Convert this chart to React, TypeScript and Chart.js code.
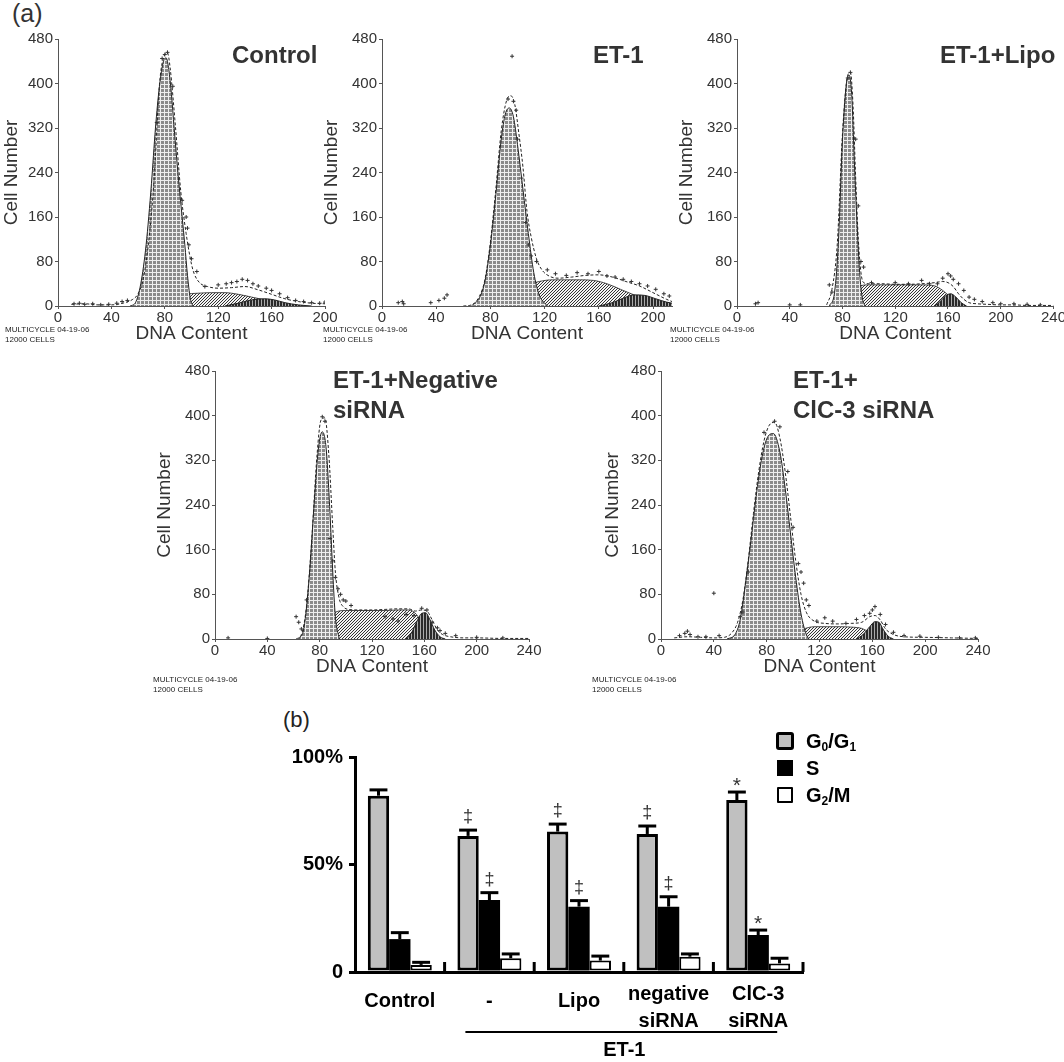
import React, { useEffect, useRef } from 'react';
import { Chart, registerables } from 'chart.js';

Chart.register(...registerables);

const FONT = '"Liberation Sans", Arial, Helvetica, sans-serif';
type Pt = [number, number];

// ================= (a) DNA histograms: [DNA content, cell number] =================
// Control
const ctlG1: Pt[] = [[54,0],[58,6],[62,40],[66,110],[70,220],[73,320],[76,395],[79,440],[81,446],[83,425],[85,380],[87,320],[90,235],[93,160],[95,110],[97,55],[99,15],[101,0]];
const ctlS: Pt[] = [[64,0],[75,5],[85,14],[95,21],[105,23],[115,24],[125,24],[135,21],[145,16],[155,11],[165,6],[175,2],[185,0]];
const ctlG2: Pt[] = [[125,0],[135,5],[145,11],[155,13],[162,11],[170,6],[180,2],[190,0]];
const ctlFit: Pt[] = [[10,3],[20,4],[30,2],[40,2],[50,6],[56,12],[60,22],[64,50],[68,118],[72,228],[76,398],[80,452],[82,455],[84,428],[88,322],[92,205],[96,130],[98,100],[100,75],[102,58],[106,42],[112,35],[120,32],[130,33],[140,35],[150,29],[160,21],[170,13],[180,8],[190,5],[200,4]];
const ctlDots: Pt[] = [[12,4],[16,5],[20,3],[26,4],[32,2],[38,3],[44,5],[48,8],[52,10],[78,445],[80,452],[82,456],[74,330],[86,395],[93,190],[96,160],[97,140],[98,110],[100,85],[104,62],[110,35],[120,38],[126,40],[130,42],[134,44],[138,48],[142,46],[146,40],[150,36],[156,32],[160,28],[166,22],[172,15],[178,10],[184,8],[190,6],[196,5],[200,7]];

// ET-1
const et1G1: Pt[] = [[66,0],[72,15],[76,45],[80,110],[84,200],[88,300],[91,345],[94,356],[97,340],[100,290],[104,210],[108,130],[112,60],[116,20],[122,0]];
const et1S: Pt[] = [[76,0],[86,8],[96,22],[106,36],[116,44],[126,47],[136,47],[146,47],[156,46],[166,40],[176,30],[186,20],[196,12],[206,6],[214,3]];
const et1G2: Pt[] = [[160,0],[170,6],[178,14],[186,20],[194,19],[202,13],[210,7],[214,5]];
const et1Fit: Pt[] = [[60,0],[66,2],[72,18],[76,48],[80,115],[84,210],[88,315],[92,370],[95,378],[98,362],[101,310],[104,250],[107,170],[110,125],[114,85],[118,65],[124,53],[130,50],[140,52],[150,55],[160,56],[170,52],[180,44],[190,36],[200,24],[210,12],[214,8]];
const et1Dots: Pt[] = [[12,6],[15,8],[16,4],[36,6],[42,10],[46,14],[48,20],[92,498],[96,449],[93,372],[97,368],[99,352],[100,300],[103,230],[106,150],[108,110],[110,90],[114,80],[122,65],[128,58],[136,55],[144,60],[152,58],[160,62],[166,54],[172,52],[178,48],[184,44],[190,40],[196,36],[202,30],[208,22],[212,18]];

// ET-1 + Lipo
const lipG1: Pt[] = [[70,0],[74,25],[77,120],[80,300],[83,400],[85,415],[87,380],[89,260],[91,150],[93,60],[95,15],[97,0]];
const lipS: Pt[] = [[74,0],[80,8],[86,25],[92,35],[100,38],[110,38],[120,38],[130,38],[140,38],[150,36],[156,28],[162,16],[168,6],[174,0]];
const lipG2: Pt[] = [[150,0],[154,8],[158,18],[162,22],[166,16],[170,6],[174,0]];
const lipFit: Pt[] = [[68,2],[72,30],[76,110],[80,310],[84,415],[86,420],[88,360],[90,230],[92,120],[94,60],[96,42],[100,40],[110,40],[120,39],[130,39],[140,40],[150,42],[156,44],[160,42],[164,35],[168,22],[172,12],[176,6],[182,4],[190,3],[200,2],[210,2],[220,1],[230,1],[240,1]];
const lipDots: Pt[] = [[14,4],[16,6],[40,2],[48,2],[70,38],[72,25],[86,420],[84,410],[90,300],[92,180],[94,80],[96,70],[102,42],[120,42],[130,40],[140,46],[146,40],[152,40],[156,50],[160,58],[162,54],[164,48],[168,40],[172,28],[176,16],[180,12],[186,8],[194,6],[200,4],[210,4],[220,3],[230,2]];

// ET-1 + Negative siRNA
const negG1: Pt[] = [[64,0],[68,20],[72,110],[76,250],[79,340],[82,371],[85,340],[88,220],[90,120],[92,40],[95,0]];
const negS: Pt[] = [[74,0],[80,10],[86,32],[92,48],[100,51],[110,51],[120,51],[130,51],[140,52],[148,52],[154,44],[158,28],[162,12],[166,2],[168,0]];
const negG2: Pt[] = [[146,0],[150,10],[154,30],[158,46],[161,47],[164,36],[168,16],[172,4],[176,0]];
const negFit: Pt[] = [[62,0],[66,8],[70,60],[74,180],[78,330],[81,392],[84,396],[87,330],[90,200],[92,120],[95,72],[98,58],[102,53],[110,52],[120,52],[130,53],[140,54],[148,54],[153,50],[158,52],[162,50],[166,34],[170,16],[174,8],[180,4],[190,2],[200,2],[220,1],[240,1]];
const negDots: Pt[] = [[10,2],[40,1],[62,40],[64,30],[66,18],[70,70],[82,398],[84,390],[88,180],[90,140],[92,110],[94,90],[96,80],[98,70],[100,68],[104,60],[130,40],[136,36],[140,32],[146,44],[152,42],[158,55],[162,52],[166,30],[170,20],[172,15],[176,10],[184,6],[200,3],[220,2]];

// ET-1 + ClC-3 siRNA
const clcG1: Pt[] = [[50,0],[56,8],[60,35],[64,100],[68,175],[72,255],[76,320],[80,358],[85,368],[90,335],[94,270],[98,190],[102,110],[106,45],[110,8],[112,0]];
const clcS: Pt[] = [[84,0],[92,4],[100,10],[108,18],[116,22],[126,22],[136,22],[146,21],[152,19],[158,12],[164,5],[170,0]];
const clcG2: Pt[] = [[148,0],[153,8],[158,22],[162,31],[165,30],[168,18],[172,5],[176,0]];
const clcFit: Pt[] = [[10,2],[20,4],[30,3],[40,2],[48,3],[54,12],[58,30],[62,70],[66,140],[70,225],[74,300],[78,355],[82,383],[86,388],[90,360],[94,300],[98,220],[102,140],[106,80],[110,48],[116,32],[124,28],[134,27],[144,28],[152,30],[158,40],[162,42],[166,34],[170,18],[176,8],[184,4],[200,3],[220,2],[240,1]];
const clcDots: Pt[] = [[14,6],[18,10],[20,14],[22,8],[28,4],[34,4],[40,82],[44,6],[60,40],[62,48],[66,120],[78,370],[86,390],[90,380],[96,300],[100,200],[104,135],[106,120],[108,100],[110,70],[112,60],[118,32],[124,38],[130,32],[140,28],[148,35],[154,42],[158,46],[160,52],[162,58],[166,44],[170,26],[176,12],[184,6],[196,5],[210,3],[226,2],[238,2]];

const histTitles = [['Control'], ['ET-1'], ['ET-1+Lipo'], ['ET-1+Negative', 'siRNA'], ['ET-1+', 'ClC-3 siRNA']];
const histXMax = [200, 214, 240, 240, 240];
const histYMax = 480;
const histStep = 80;
const histXStep = 40;
const xAxisTitle = 'DNA Content';
const yAxisTitle = 'Cell Number';
const footer = ['MULTICYCLE 04-19-06', '12000 CELLS'];

const panels = [
  { g1: ctlG1, s: ctlS, g2: ctlG2, fit: ctlFit, dots: ctlDots },
  { g1: et1G1, s: et1S, g2: et1G2, fit: et1Fit, dots: et1Dots },
  { g1: lipG1, s: lipS, g2: lipG2, fit: lipFit, dots: lipDots },
  { g1: negG1, s: negS, g2: negG2, fit: negFit, dots: negDots },
  { g1: clcG1, s: clcS, g2: clcG2, fit: clcFit, dots: clcDots },
];

// ================= (b) bar chart =================
const barCats: (string | string[])[] = ['Control', '-', 'Lipo', ['negative', 'siRNA'], ['ClC-3', 'siRNA']];
const g0Vals = [82.0, 63.3, 65.3, 64.2, 80.0];
const g0Err = [2.7, 2.7, 3.5, 3.7, 3.7];
const sVals = [15.3, 33.5, 30.4, 30.4, 17.2];
const sErr = [3.0, 3.4, 2.8, 4.6, 2.3];
const g2Vals = [3.3, 6.4, 5.3, 7.1, 4.0];
const g2Err = [1.2, 2.0, 2.1, 1.3, 2.4];
const g0Marks = ['', '‡', '‡', '‡', '*'];
const sMarks = ['', '‡', '‡', '‡', '*'];
const g2Marks = ['', '', '', '', ''];
const pctLabels: Record<number, string> = { 0: '0', 50: '50%', 100: '100%' };
const seriesNames = ['G_0/G_1', 'S', 'G_2/M'];
const groupLabel = 'ET-1';
const groupRange = [1, 4];

// ================= layout =================
const histLayout = [
  { left: 0, top: 28, width: 339, height: 317, yW: 58, padR: 14 },
  { left: 320, top: 28, width: 366, height: 317, yW: 62, padR: 14 },
  { left: 675, top: 28, width: 391, height: 317, yW: 62, padR: 12 },
  { left: 153, top: 360, width: 390, height: 318, yW: 62, padR: 14 },
  { left: 601, top: 360, width: 391, height: 318, yW: 60, padR: 14 },
];
const titlePos = [
  { left: 232, top: 40 },
  { left: 593, top: 40 },
  { left: 940, top: 40 },
  { left: 333, top: 365 },
  { left: 793, top: 365 },
];
const footerPos = [
  { left: 5, top: 325 },
  { left: 323, top: 325 },
  { left: 670, top: 325 },
  { left: 153, top: 675 },
  { left: 592, top: 675 },
];

function makePattern(kind: string) {
  const c = document.createElement('canvas');
  const ctx = c.getContext('2d')!;
  if (kind === 'g1') {
    c.width = 4; c.height = 4;
    ctx.fillStyle = '#8a8a8a'; ctx.fillRect(0, 0, 4, 4);
    ctx.fillStyle = '#eeeeee'; ctx.fillRect(0, 0, 4, 1); ctx.fillRect(0, 0, 1, 4);
  } else if (kind === 's') {
    c.width = 3; c.height = 3;
    ctx.fillStyle = '#f4f4f4'; ctx.fillRect(0, 0, 3, 3);
    ctx.fillStyle = '#333'; ctx.fillRect(0, 2, 1, 1); ctx.fillRect(1, 1, 1, 1); ctx.fillRect(2, 0, 1, 1);
  } else {
    c.width = 3; c.height = 3;
    ctx.fillStyle = '#2a2a2a'; ctx.fillRect(0, 0, 3, 3);
    ctx.fillStyle = '#aaa'; ctx.fillRect(0, 0, 1, 3);
  }
  return ctx.createPattern(c, 'repeat');
}

const toPts = (a: Pt[]) => a.map(([x, y]) => ({ x, y }));

function Histogram({ idx }: { idx: number }) {
  const ref = useRef<HTMLCanvasElement>(null);
  const L = histLayout[idx];
  useEffect(() => {
    const p = panels[idx];
    const txt = '#333';
    const tickFont = { family: FONT, size: 15 };
    const titleFont = { family: FONT, size: 19 };
    const area = (data: Pt[], pat: any, bw: number) => ({
      data: toPts(data), borderColor: '#222', borderWidth: bw, backgroundColor: pat,
      fill: 'origin', pointRadius: 0, cubicInterpolationMode: 'monotone',
    });
    const cfg: any = {
      type: 'line',
      data: {
        datasets: [
          { data: toPts(p.dots), showLine: false, pointStyle: 'cross', pointRadius: 2, borderColor: '#333', borderWidth: 1, backgroundColor: '#333' },
          { data: toPts(p.fit), borderColor: '#222', borderWidth: 1, borderDash: [3, 2], pointRadius: 0, fill: false, cubicInterpolationMode: 'monotone' },
          area(p.g1, makePattern('g1'), 1),
          area(p.g2, makePattern('g2'), 1),
          area(p.s, makePattern('s'), 0.8),
        ],
      },
      options: {
        animation: false, responsive: false, maintainAspectRatio: false,
        layout: { padding: { top: 10, right: L.padR, bottom: 0, left: 0 } },
        plugins: { legend: { display: false }, tooltip: { enabled: false } },
        scales: {
          x: {
            type: 'linear', min: 0, max: histXMax[idx],
            ticks: { stepSize: histXStep, includeBounds: false, font: tickFont, color: txt, padding: 0, maxRotation: 0, autoSkip: false },
            grid: { display: true, drawOnChartArea: false, drawTicks: true, tickLength: 3, color: '#555' },
            border: { display: true, color: '#555', width: 1 },
            title: { display: true, text: xAxisTitle, font: titleFont, color: txt, padding: 0 },
            afterFit: (s: any) => { s.height = 39; },
          },
          y: {
            type: 'linear', min: 0, max: histYMax,
            ticks: { stepSize: histStep, font: tickFont, color: txt, padding: 2 },
            grid: { display: true, drawOnChartArea: false, drawTicks: true, tickLength: 3, color: '#555' },
            border: { display: true, color: '#555', width: 1 },
            title: { display: true, text: yAxisTitle, font: titleFont, color: txt, padding: 0 },
            afterFit: (s: any) => { s.width = L.yW; },
          },
        },
      },
    };
    const chart = new Chart(ref.current!, cfg);
    return () => chart.destroy();
  }, [idx]);
  return (
    <canvas ref={ref} width={L.width} height={L.height}
      style={{ position: 'absolute', left: L.left, top: L.top, width: L.width, height: L.height }} />
  );
}

function drawMark(ctx: CanvasRenderingContext2D, t: string, x: number, cy: number, size: number) {
  ctx.font = `${size}px ${FONT}`;
  const m = ctx.measureText(t);
  const y = cy + (m.actualBoundingBoxAscent - m.actualBoundingBoxDescent) / 2;
  ctx.textAlign = 'center';
  ctx.textBaseline = 'alphabetic';
  ctx.fillStyle = '#333';
  ctx.fillText(t, x, y);
}

function BarChart() {
  const ref = useRef<HTMLCanvasElement>(null);
  useEffect(() => {
    const vals = [g0Vals, sVals, g2Vals];
    const errs = [g0Err, sErr, g2Err];
    const marks = [g0Marks, sMarks, g2Marks];
    const errPlugin = {
      id: 'errbars',
      afterDatasetsDraw(chart: any) {
        const ctx = chart.ctx; const y = chart.scales.y;
        ctx.save();
        vals.forEach((v, di) => {
          const meta = chart.getDatasetMeta(di);
          meta.data.forEach((bar: any, i: number) => {
            const base = y.getPixelForValue(v[i]);
            const top = y.getPixelForValue(v[i] + errs[di][i]);
            const hw = bar.width * 0.42;
            ctx.strokeStyle = '#000'; ctx.lineWidth = 3; ctx.lineCap = 'butt';
            ctx.beginPath(); ctx.moveTo(bar.x, base); ctx.lineTo(bar.x, top); ctx.stroke();
            ctx.beginPath(); ctx.moveTo(bar.x - hw, top); ctx.lineTo(bar.x + hw, top); ctx.stroke();
            const mk = marks[di][i];
            if (mk === '‡') drawMark(ctx, mk, bar.x, top - 13.5, 18);
            else if (mk === '*') drawMark(ctx, mk, bar.x, top - 10, 21);
          });
        });
        ctx.restore();
      },
    };
    const deco = {
      id: 'deco',
      afterDraw(chart: any) {
        const ctx = chart.ctx; const x = chart.scales.x; const ca = chart.chartArea;
        ctx.save();
        ctx.strokeStyle = '#000'; ctx.lineWidth = 3;
        const n = barCats.length; const w = (x.right - x.left) / n;
        for (let k = 1; k <= n; k++) {
          const px = x.left + k * w;
          ctx.beginPath(); ctx.moveTo(px, ca.bottom); ctx.lineTo(px, ca.bottom - 10); ctx.stroke();
        }
        const x1 = x.getPixelForValue(groupRange[0]) - 24;
        const x2 = x.getPixelForValue(groupRange[1]) + 19;
        ctx.lineWidth = 2;
        ctx.beginPath(); ctx.moveTo(x1, ca.bottom + 60); ctx.lineTo(x2, ca.bottom + 60); ctx.stroke();
        ctx.fillStyle = '#000';
        ctx.font = `bold 20px ${FONT}`;
        ctx.textAlign = 'center'; ctx.textBaseline = 'middle';
        ctx.fillText(groupLabel, (x1 + x2) / 2 + 3, ca.bottom + 78);
        ctx.restore();
      },
    };
    const cfg: any = {
      type: 'bar',
      data: {
        labels: barCats,
        datasets: [
          { data: g0Vals, backgroundColor: '#c0c0c0', borderColor: '#000', borderWidth: 3, borderSkipped: false },
          { data: sVals, backgroundColor: '#000', borderColor: '#000', borderWidth: 0 },
          { data: g2Vals, backgroundColor: '#fff', borderColor: '#000', borderWidth: 2, borderSkipped: false },
        ],
      },
      options: {
        animation: false, responsive: false, maintainAspectRatio: false,
        datasets: { bar: { barPercentage: 1, categoryPercentage: 0.714 } },
        layout: { padding: { top: 57, right: 57, left: 0, bottom: 0 } },
        plugins: { legend: { display: false }, tooltip: { enabled: false } },
        scales: {
          x: {
            grid: { display: false },
            border: { display: true, color: '#000', width: 3 },
            ticks: {
              font: (c: any) => ({ family: FONT, size: 20, weight: 'bold', lineHeight: Array.isArray(barCats[c.index]) ? 1.35 : 2.05 }),
              color: '#000', padding: 1, maxRotation: 0, autoSkip: false,
            },
            afterFit: (s: any) => { s.height = 90; },
          },
          y: {
            min: 0, max: 100,
            ticks: { stepSize: 50, font: { family: FONT, size: 20, weight: 'bold' }, color: '#000', padding: 6, callback: (v: number) => pctLabels[v] ?? '' },
            grid: { display: true, drawOnChartArea: false, drawTicks: true, tickLength: 6, color: '#000', lineWidth: 3 },
            border: { display: true, color: '#000', width: 3 },
            afterFit: (s: any) => { s.width = 75; },
          },
        },
      },
      plugins: [errPlugin, deco],
    };
    const chart = new Chart(ref.current!, cfg);
    return () => chart.destroy();
  }, []);
  return (
    <canvas ref={ref} width={580} height={362}
      style={{ position: 'absolute', left: 280, top: 700, width: 580, height: 362 }} />
  );
}

function SubText({ s }: { s: string }) {
  const parts = s.split(/_(\d)/);
  return (
    <>
      {parts.map((p, i) => (i % 2 === 1
        ? <sub key={i} style={{ fontSize: '0.6em', verticalAlign: '-0.25em', lineHeight: 0 }}>{p}</sub>
        : <span key={i}>{p}</span>))}
    </>
  );
}

const legendBoxes = [
  { w: 18, h: 18, bg: '#c0c0c0', border: '3.5px solid #000', radius: 3 },
  { w: 16, h: 16, bg: '#000', border: 'none', radius: 0 },
  { w: 16, h: 16, bg: '#fff', border: '2px solid #000', radius: 1 },
];
const legendY = [741, 768, 795];

export default function App() {
  return (
    <div style={{ position: 'fixed', left: 0, top: 0, width: 1064, height: 1062, background: '#fff', overflow: 'hidden', fontFamily: FONT }}>
      <div style={{ position: 'absolute', left: 12, top: 1, fontSize: 25, lineHeight: '25px', color: '#333' }}>(a)</div>
      {panels.map((_, i) => <Histogram key={i} idx={i} />)}
      {histTitles.map((t, i) => (
        <div key={'t' + i} style={{ position: 'absolute', left: titlePos[i].left, top: titlePos[i].top, fontSize: 24, fontWeight: 'bold', lineHeight: '30px', color: '#333', whiteSpace: 'nowrap' }}>
          {t.map((line, j) => <div key={j}>{line}</div>)}
        </div>
      ))}
      {footerPos.map((p, i) => (
        <div key={'f' + i} style={{ position: 'absolute', left: p.left, top: p.top, fontSize: 8, lineHeight: '10px', color: '#222', whiteSpace: 'nowrap' }}>
          {footer.map((line, j) => <div key={j}>{line}</div>)}
        </div>
      ))}
      <div style={{ position: 'absolute', left: 283, top: 709, fontSize: 22, lineHeight: '22px', color: '#222' }}>(b)</div>
      <BarChart />
      {seriesNames.map((s, i) => (
        <React.Fragment key={'l' + i}>
          <div style={{
            position: 'absolute', left: 776 + (18 - legendBoxes[i].w) / 2, top: legendY[i] - legendBoxes[i].h / 2,
            width: legendBoxes[i].w, height: legendBoxes[i].h, background: legendBoxes[i].bg,
            border: legendBoxes[i].border, borderRadius: legendBoxes[i].radius, boxSizing: 'border-box',
          }} />
          <div style={{ position: 'absolute', left: 806, top: legendY[i] - 12, fontSize: 20, lineHeight: '24px', fontWeight: 'bold', color: '#000', whiteSpace: 'nowrap' }}>
            <SubText s={s} />
          </div>
        </React.Fragment>
      ))}
    </div>
  );
}
